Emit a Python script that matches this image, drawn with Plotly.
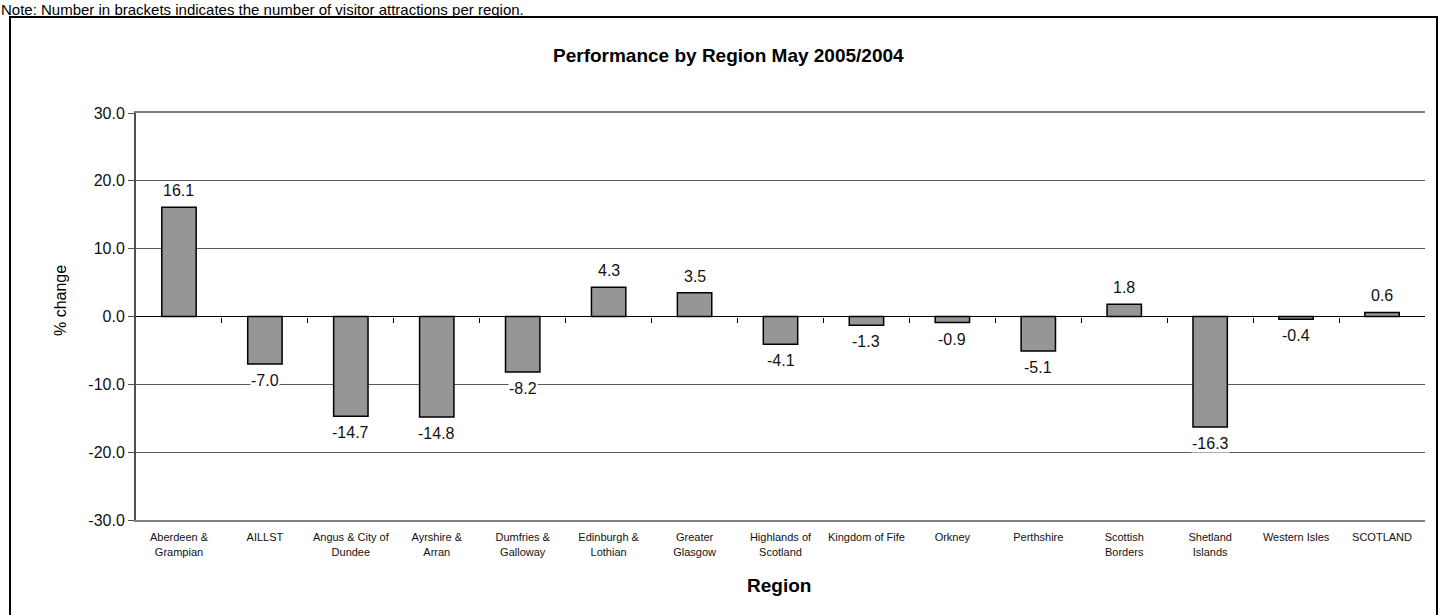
import plotly.graph_objects as go

categories = ["Aberdeen &<br>Grampian", "AILLST", "Angus & City of<br>Dundee", "Ayrshire &<br>Arran",
              "Dumfries &<br>Galloway", "Edinburgh &<br>Lothian", "Greater<br>Glasgow", "Highlands of<br>Scotland",
              "Kingdom of Fife", "Orkney", "Perthshire", "Scottish<br>Borders", "Shetland<br>Islands",
              "Western Isles", "SCOTLAND"]
values = [16.1, -7.0, -14.7, -14.8, -8.2, 4.3, 3.5, -4.1, -1.3, -0.9, -5.1, 1.8, -16.3, -0.4, 0.6]
y_ticks = [-30, -20, -10, 0, 10, 20, 30]

FONT = "Liberation Sans, Arial, sans-serif"
W, H = 1439, 615
ML, MR, MT, MB = 136, 14, 113, 95
pw = W - ML - MR
ph = H - MT - MB


def px(x):
    return (x - ML) / pw


def py(y):
    return (H - MB - y) / ph


fig = go.Figure()
fig.add_trace(go.Bar(
    x=list(range(len(categories))), y=values,
    marker=dict(color="#969696", line=dict(color="black", width=1.5)),
    width=0.4, hoverinfo="skip",
))

# secondary x axis: zero line with category tick marks
fig.add_trace(go.Scatter(x=[-0.5, len(categories) - 0.5], y=[0, 0], xaxis="x2", mode="lines",
                         line=dict(color="black", width=1), hoverinfo="skip", showlegend=False))

for i, v in enumerate(values):
    fig.add_annotation(
        x=i, y=v, text=f"{v:.1f}", showarrow=False,
        yanchor="bottom" if v >= 0 else "top",
        yshift=7 if v >= 0 else -7,
        bgcolor="white", borderpad=0,
        font=dict(family=FONT, size=16, color="#111"),
    )

ymin, ymax = -30, 30
zero_frac = (0 - ymin) / (ymax - ymin)

fig.update_layout(
    width=W, height=H,
    margin=dict(l=ML, r=MR, t=MT, b=MB),
    paper_bgcolor="white", plot_bgcolor="white",
    showlegend=False,
    font=dict(family=FONT, color="black"),
    xaxis=dict(
        range=[-0.5, len(categories) - 0.5],
        tickvals=list(range(len(categories))), ticktext=categories,
        tickfont=dict(size=11, color="#111"),
        showgrid=False, zeroline=False,
        showline=True, linecolor="#808080", linewidth=2, mirror=True,
        ticks="", ticklabelstandoff=6, fixedrange=True,
    ),
    xaxis2=dict(
        range=[-0.5, len(categories) - 0.5], overlaying="x", anchor="free", position=zero_frac,
        side="bottom", showticklabels=False, showgrid=False, zeroline=False, showline=False,
        tickvals=[i + 0.5 for i in range(len(categories) - 1)],
        ticks="outside", ticklen=5, tickcolor="black", tickwidth=1,
    ),
    yaxis=dict(
        range=[ymin, ymax], tickvals=y_ticks, ticktext=[f"{t:.1f}" for t in y_ticks],
        tickfont=dict(size=16, color="#111"),
        showgrid=True, gridcolor="#5a5a5a", gridwidth=1,
        zeroline=False,
        showline=True, linecolor="#505050", linewidth=2,
        ticks="outside", ticklen=6, tickcolor="#505050",
    ),
    annotations=list(fig.layout.annotations) + [
        dict(text="<b>Performance by Region May 2005/2004</b>", xref="paper", yref="paper",
             x=px(728), y=py(55), showarrow=False,
             xanchor="center", yanchor="middle", font=dict(size=19, family=FONT, color="black")),
        dict(text="<b>Region</b>", xref="paper", yref="paper",
             x=px(779), y=py(585), showarrow=False,
             xanchor="center", yanchor="middle", font=dict(size=19, family=FONT, color="black")),
        dict(text="% change", xref="paper", yref="paper", textangle=-90,
             x=px(60), y=py(301), showarrow=False,
             xanchor="center", yanchor="middle", font=dict(size=16, family=FONT, color="black")),
        dict(text="Note: Number in brackets indicates the number of visitor attractions per region.",
             xref="paper", yref="paper", x=px(0), y=py(0), showarrow=False,
             xanchor="left", yanchor="top", borderpad=0,
             font=dict(size=15, family="Liberation Sans Narrow, Liberation Sans, Arial", color="black")),
    ],
    shapes=[dict(type="rect", xref="paper", yref="paper",
                 x0=px(10), x1=px(1437),
                 y0=py(650), y1=py(17),
                 line=dict(color="black", width=2), fillcolor="rgba(0,0,0,0)", layer="below")],
)

fig.write_html("out.html", config={"displayModeBar": False},
               post_script="document.body.style.margin='0';document.body.style.overflow='hidden';")
